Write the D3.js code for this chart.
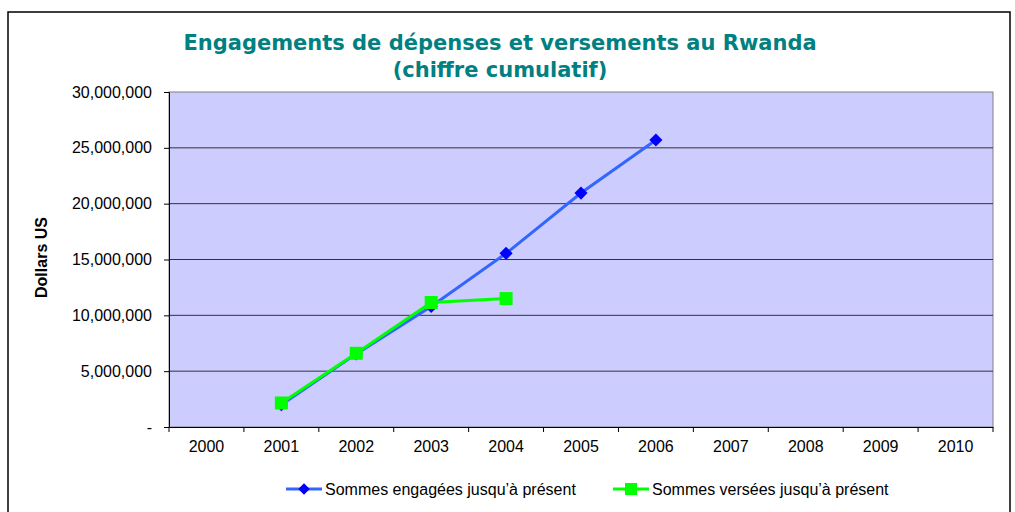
<!DOCTYPE html>
<html>
<head>
<meta charset="utf-8">
<script src="https://cdn.jsdelivr.net/npm/d3@7"></script>
<style>
  body { margin: 0; background: #fff; }
  text { font-family: "Liberation Sans", Arial, sans-serif; }
</style>
</head>
<body>
<script>
// taille de la fenêtre
const width = 1015;
const height = 512;

// données
const years = ['2000','2001','2002','2003','2004','2005','2006','2007','2008','2009','2010'];
const engagedYears = ['2001','2002','2003','2004','2005','2006'];
const engagedValues = [2000000, 6550000, 10800000, 15550000, 20950000, 25700000];
const paidYears = ['2001','2002','2003','2004'];
const paidValues = [2150000, 6600000, 11150000, 11500000];
const yTicks = [0, 5000000, 10000000, 15000000, 20000000, 25000000, 30000000];
const seriesNames = ['Sommes engagées jusqu\u2019à présent', 'Sommes versées jusqu\u2019à présent'];

const plot = {left: 169, top: 92, right: 993, bottom: 427};

let svg = d3.select('body')
    .append('svg')
    .attr('width', width)
    .attr('height', height);

// cadre extérieur
svg.append('rect')
    .attr('x', 8).attr('y', 12)
    .attr('width', 1002).attr('height', 520)
    .attr('fill', '#fff')
    .attr('stroke', '#000')
    .attr('stroke-width', 1.5);

// titre
let title = svg.append('text')
    .attr('text-anchor', 'middle')
    .style('font-family', '"DejaVu Sans", Verdana, sans-serif')
    .style('font-weight', 'bold')
    .style('font-size', '21px')
    .attr('fill', '#008080');
title.append('tspan').attr('x', 500).attr('y', 50).text('Engagements de dépenses et versements au Rwanda');
title.append('tspan').attr('x', 500).attr('y', 77).text('(chiffre cumulatif)');

let xScale = d3.scaleBand()
    .domain(years)
    .range([plot.left, plot.right]);
let yScale = d3.scaleLinear()
    .domain([0, 30000000])
    .range([plot.bottom, plot.top]);

// fond du graphique
svg.append('rect')
    .attr('x', plot.left).attr('y', plot.top)
    .attr('width', plot.right - plot.left)
    .attr('height', plot.bottom - plot.top)
    .attr('fill', '#ccccff')
    .attr('stroke', '#808080')
    .attr('stroke-width', 1);

// lignes de la grille
svg.append('g')
    .selectAll('line')
    .data(yTicks.filter(d => d > 0 && d < 30000000))
    .enter()
    .append('line')
    .attr('x1', plot.left).attr('x2', plot.right)
    .attr('y1', d => yScale(d)).attr('y2', d => yScale(d))
    .attr('stroke', '#333')
    .attr('stroke-width', 1);

// axe Y
let fmt = d3.format(',');
let yAxis = d3.axisLeft(yScale)
    .tickValues(yTicks)
    .tickSize(5)
    .tickPadding(12)
    .tickFormat(d => d === 0 ? '-' : fmt(d));
let yAxisGroup = svg.append('g')
    .attr('transform', `translate(${plot.left},0)`)
    .call(yAxis);
yAxisGroup.select('.domain').attr('stroke', '#000');
yAxisGroup.selectAll('text')
    .style('font-family', '"Liberation Sans", Arial, sans-serif')
    .style('font-size', '16px')
    .attr('fill', '#000');

// axe X
let xAxis = d3.axisBottom(xScale)
    .tickSize(0)
    .tickPadding(14);
let xAxisGroup = svg.append('g')
    .attr('transform', `translate(0,${plot.bottom})`)
    .call(xAxis);
xAxisGroup.select('.domain').attr('stroke', '#000');
xAxisGroup.selectAll('text')
    .style('font-family', '"Liberation Sans", Arial, sans-serif')
    .style('font-size', '16px')
    .attr('fill', '#000');
// graduations entre les catégories
xAxisGroup.selectAll('.sep')
    .data(years.concat(['end']))
    .enter()
    .append('line')
    .attr('x1', (d, i) => plot.left + i * xScale.step())
    .attr('x2', (d, i) => plot.left + i * xScale.step())
    .attr('y1', 0).attr('y2', 5)
    .attr('stroke', '#000');

svg.append('text')
    .attr('transform', `translate(47,${(plot.top + plot.bottom) / 2 - 2}) rotate(-90)`)
    .attr('text-anchor', 'middle')
    .style('font-size', '16px')
    .style('font-weight', 'bold')
    .text('Dollars US');

let cx = d => xScale(d) + xScale.bandwidth() / 2;

// série des engagements
let engaged = engagedYears.map((y, i) => ({year: y, value: engagedValues[i]}));
let paid = paidYears.map((y, i) => ({year: y, value: paidValues[i]}));
let line = d3.line().x(d => cx(d.year)).y(d => yScale(d.value));

svg.append('path')
    .datum(engaged)
    .attr('d', line)
    .attr('fill', 'none')
    .attr('stroke', '#3366ff')
    .attr('stroke-width', 3);

let diamond = d3.symbol().type(d3.symbolDiamond2).size(110);
svg.append('g')
    .selectAll('path')
    .data(engaged)
    .enter()
    .append('path')
    .attr('d', diamond)
    .attr('transform', d => `translate(${cx(d.year)},${yScale(d.value)})`)
    .attr('fill', '#0000ff');

// série des versements
svg.append('path')
    .datum(paid)
    .attr('d', line)
    .attr('fill', 'none')
    .attr('stroke', '#00ff00')
    .attr('stroke-width', 3);

svg.append('g')
    .selectAll('rect')
    .data(paid)
    .enter()
    .append('rect')
    .attr('x', d => cx(d.year) - 6.5)
    .attr('y', d => yScale(d.value) - 6.5)
    .attr('width', 13).attr('height', 13)
    .attr('fill', '#00ff00');

// légende
let legend = svg.append('g');
let items = [
    {name: seriesNames[0], x: 286, color: '#3366ff', marker: '#0000ff', shape: 'diamond'},
    {name: seriesNames[1], x: 613, color: '#00ff00', marker: '#00ff00', shape: 'square'}
];
items.forEach(it => {
    let g = legend.append('g').attr('transform', `translate(${it.x},489)`);
    g.append('line').attr('x1', 0).attr('x2', 36).attr('y1', 0).attr('y2', 0)
        .attr('stroke', it.color).attr('stroke-width', 3);
    if (it.shape === 'diamond') {
        g.append('path').attr('d', d3.symbol().type(d3.symbolDiamond2).size(85))
            .attr('transform', 'translate(18,0)')
            .attr('fill', it.marker);
    } else {
        g.append('rect').attr('x', 12).attr('y', -6).attr('width', 12).attr('height', 12)
            .attr('fill', it.marker);
    }
    g.append('text').attr('x', 39).attr('y', 5.5)
        .style('font-size', '16px')
        .text(it.name);
});
</script>
</body>
</html>
